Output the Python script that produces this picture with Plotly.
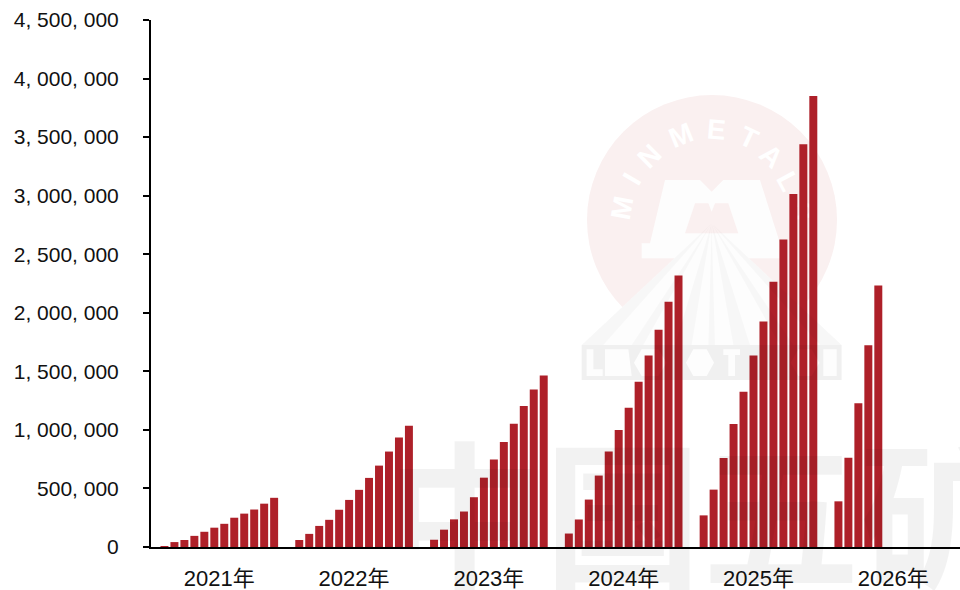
import plotly.graph_objects as go

years = ["2021年", "2022年", "2023年", "2024年", "2025年", "2026年"]
v2021 = [8000, 42000, 60000, 95000, 130000, 165000, 198000, 250000, 285000, 320000, 370000, 420000]
v2022 = [60000, 112000, 180000, 232000, 318000, 402000, 488000, 590000, 695000, 815000, 935000, 1035000]
v2023 = [62000, 148000, 236000, 303000, 425000, 592000, 748000, 897000, 1052000, 1205000, 1345000, 1465000]
v2024 = [115000, 235000, 405000, 610000, 815000, 1000000, 1190000, 1412000, 1635000, 1855000, 2095000, 2318000]
v2025 = [270000, 490000, 760000, 1050000, 1326000, 1635000, 1925000, 2266000, 2625000, 3015000, 3440000, 3850000]
v2026 = [390000, 762000, 1228000, 1722000, 2232000]
series = [v2021, v2022, v2023, v2024, v2025, v2026]
ytick_vals = [0, 500000, 1000000, 1500000, 2000000, 2500000, 3000000, 3500000, 4000000, 4500000]
ytick_text = ["0", "500, 000", "1, 000, 000", "1, 500, 000", "2, 000, 000", "2, 500, 000",
              "3, 000, 000", "3, 500, 000", "4, 000, 000", "4, 500, 000"]

W, H = 960, 590
L, R, T, B = 151, 0, 20, 43
SLOT = 9.97
YEAR_SLOTS = 13.52

xs, ys = [], []
for i, vals in enumerate(series):
    for m, v in enumerate(vals):
        xs.append(i * YEAR_SLOTS + m)
        ys.append(v)

def px(x): return (x - L) / (W - L - R)
def py(y): return 1 - (y - T) / (H - T - B)
def path(pts):
    return "M" + "L".join(f"{px(a):.5f},{py(b):.5f}" for a, b in pts) + "Z"
def z(a, b):  # watermark geometry measured in the crop
    return (560 + a / 3, 80 + b / 3)

PINK = "#faf0f0"
WHITE = "#fdfdfd"
GREY = "rgba(0,0,0,0.022)"
shapes = [
    dict(type="circle", xref="paper", yref="paper", x0=px(587), x1=px(837), y0=py(95), y1=py(345),
         fillcolor=PINK, line_width=0, layer="below"),
    dict(type="path", xref="paper", yref="paper", layer="below", line_width=0, fillcolor=WHITE,
         path=path([z(455, 430), z(845, 795), z(845, 900), z(65, 900), z(65, 795)])),
    dict(type="path", xref="paper", yref="paper", layer="below", line_width=0, fillcolor=WHITE,
         path=path([z(315, 300), z(420, 300), z(455, 335), z(490, 300), z(600, 300), z(660, 490),
                    z(665, 535), z(245, 535), z(245, 490), z(270, 490)])),
    dict(type="path", xref="paper", yref="paper", layer="below", line_width=0, fillcolor=PINK,
         path=path([z(405, 370), z(445, 370), z(455, 395), z(465, 370), z(505, 370), z(535, 460), z(375, 460)])),
]
for a, b in [(65, 130), (215, 250), (345, 395), (445, 465), (520, 570), (660, 700), (780, 845)]:
    shapes.append(dict(type="path", xref="paper", yref="paper", layer="above", line_width=0, fillcolor=GREY,
                       path=path([z(455, 430), z(b, 795), z(a, 795)])))
band = path([z(65, 795), z(845, 795), z(845, 900), z(65, 900)])
holes = [
    [z(80, 808), z(100, 808), z(100, 868), z(128, 868), z(128, 888), z(80, 888)],
    [z(135, 808), z(205, 808), z(215, 888), z(135, 888)],
    [z(245, 808), z(295, 808), z(320, 848), z(295, 888), z(245, 888), z(222, 848)],
    [z(400, 808), z(440, 808), z(462, 848), z(440, 888), z(400, 888), z(378, 848)],
    [z(490, 808), z(540, 808), z(540, 825), z(525, 825), z(525, 888), z(505, 888), z(505, 825), z(490, 825)],
    [z(715, 808), z(755, 808), z(778, 848), z(755, 888), z(715, 888), z(692, 848)],
    [z(790, 808), z(830, 808), z(830, 888), z(790, 888)],
]
band += "".join(path(h) for h in holes)
shapes.append(dict(type="path", xref="paper", yref="paper", layer="above", line_width=0,
                   fillcolor="rgba(0,0,0,0.05)", fillrule="evenodd", path=band))
letters = [("M", 178, 382, -80), ("I", 208, 292, -60), ("N", 262, 222, -45), ("M", 360, 158, -22),
           ("E", 470, 140, 5), ("T", 570, 165, 25), ("A", 640, 222, 42), ("L", 692, 300, 62), ("S", 735, 392, 85)]
for ch, a, b, ang in letters:
    x, y = z(a, b)
    shapes.append(dict(type="rect", xref="paper", yref="paper", layer="below", line_width=0,
                       fillcolor="rgba(0,0,0,0)", x0=px(x - 16), x1=px(x + 16), y0=py(y + 16), y1=py(y - 16),
                       label=dict(text=ch, textangle=ang, textposition="middle center",
                                  font=dict(family="Liberation Sans", size=28, color="#ffffff", weight="bold"))))

fig = go.Figure(go.Bar(x=xs, y=ys, width=0.8, marker=dict(color="#ae2029", line_width=0)))

fig.update_layout(
    width=W, height=H, margin=dict(l=L, r=R, t=T, b=B, pad=0),
    paper_bgcolor="white", plot_bgcolor="rgba(0,0,0,0)", showlegend=False,
    font=dict(family="Liberation Sans, Noto Sans CJK SC", color="#111111", size=21),
    shapes=shapes,
    annotations=[dict(xref="paper", yref="paper", x=px(702), y=py(507), xanchor="center", yanchor="middle",
                      text="中国五矿", showarrow=False,
                      font=dict(family="Noto Sans CJK SC", size=158, weight="bold", color="rgba(0,0,0,0.05)"))],
)
fig.update_xaxes(range=[-1.35, (W - L - R) / SLOT - 1.35],
                 tickvals=[i * YEAR_SLOTS + 5.5 for i in range(len(years))], ticktext=years,
                 ticks="", showgrid=False, zeroline=False, showline=True, linecolor="#000000", linewidth=2,
                 tickfont=dict(size=22), ticklabelstandoff=11)
fig.update_yaxes(range=[0, 4500000], tickvals=ytick_vals, ticktext=ytick_text,
                 ticks="outside", ticklen=6, tickwidth=2, tickcolor="#000000",
                 showgrid=False, zeroline=False, showline=True, linecolor="#000000", linewidth=2,
                 tickfont=dict(size=21), ticklabelstandoff=20)

fig.write_html("out.html", config={"displayModeBar": False},
               post_script="document.body.style.margin='0';document.body.style.overflow='hidden';")
